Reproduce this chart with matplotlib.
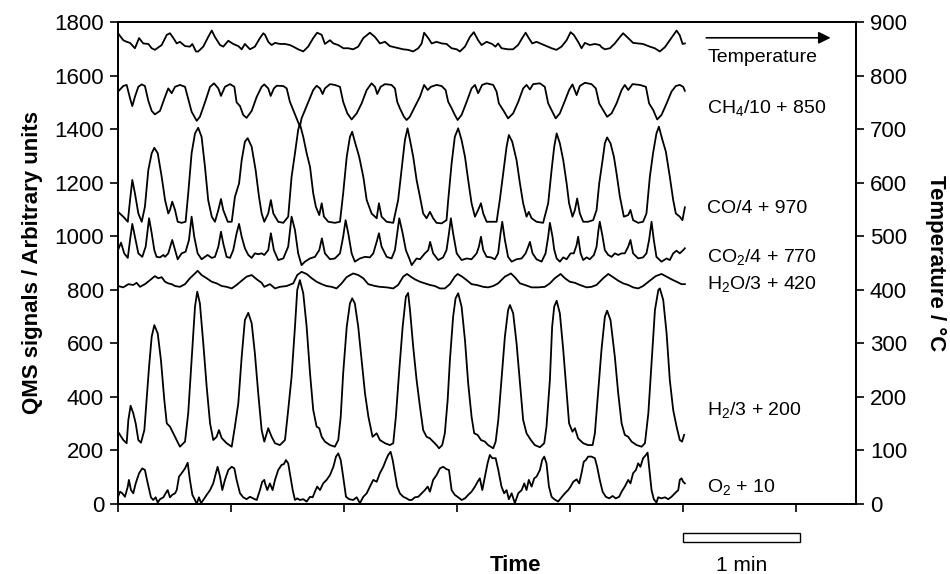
import matplotlib
matplotlib.use("Agg")
import matplotlib.pyplot as plt
from matplotlib.patches import Rectangle
import matplotlib.transforms as mtransforms

plt.rcParams['font.family'] = ['Liberation Sans', 'DejaVu Sans']
plt.rcParams['mathtext.fontset'] = 'custom'
plt.rcParams['mathtext.rm'] = 'Liberation Sans'
plt.rcParams['mathtext.default'] = 'regular'

# time in seconds, signals in arbitrary units (already offset as labelled)
temp_t = [0, 2.8, 4.6, 6.4, 9.0, 11.2, 13.4, 16.1, 17.9, 19.6, 23.2, 25.9, 27.6, 29.4, 31.2, 32.9,
          35.6, 38.2, 39.5, 41.4, 42.6, 45.3, 47.9, 49.8, 51.5, 54.2, 55.9, 58.6, 61.2, 63.9, 65.7,
          67.4, 70.1, 72.7, 75.4, 77.2, 78.1, 79.8, 81.6, 83.4, 86.0, 88.7, 91.3, 93.1, 95.7, 98.4,
          101.0, 103.7, 105.8, 108.2, 109.9, 112.6, 114.4, 117.0, 119.7, 122.3, 124.9, 127.6, 130.3,
          133.8, 136.5, 139.1, 141.8, 144.4, 148.0, 151.5, 154.1, 156.8, 159.5, 161.3, 162.6, 164.8,
          166.6, 169.2, 171.9, 174.5, 177.2, 179.9, 181.6, 184.3, 186.9, 189.0, 191.3, 193.1, 195.8,
          198.7, 200.5, 201.9, 203.7, 207.2, 209.8, 212.5, 214.7, 216.5, 218.2, 220.0, 222.3, 225.0,
          227.6, 230.3, 232.9, 235.6, 238.3, 240.4, 242.1, 244.4, 246.2, 248.0, 250.6, 253.3, 255.9,
          256.8, 258.6, 261.3, 263.9, 266.6, 268.3, 271.0, 273.6, 276.3, 278.8, 282.5, 285.1, 287.8,
          290.5, 293.1, 296.7, 298.4, 299.9, 301.1]
temp_c = [879, 866, 863, 861, 851, 870, 860, 859, 851, 848, 857, 876, 879, 870, 860, 863,
          855, 854, 859, 845, 845, 854, 872, 884, 872, 857, 854, 865, 859, 855, 849,
          859, 849, 854, 870, 879, 876, 863, 857, 861, 859, 859, 857, 854, 849, 845,
          854, 870, 880, 876, 859, 866, 860, 857, 851, 851, 849, 854, 870,
          880, 872, 860, 863, 855, 852, 849, 848, 845, 851, 860, 880, 870,
          860, 863, 860, 859, 851, 849, 845, 854, 872, 881, 866, 857, 863,
          859, 854, 860, 851, 849, 849, 857, 870, 880, 870, 860, 863, 859,
          855, 851, 848, 854, 866, 881, 876, 863, 851, 861, 857, 859, 857,
          853, 849, 851, 860, 872, 879, 870, 861, 860, 859, 854, 851, 845,
          853, 866, 884, 875, 859, 860]

ch4_t = [0, 2.8, 4.6, 6.4, 7.6, 9.0, 10.8, 12.6, 14.3, 16.1, 17.9, 19.6, 22.3, 25.0, 26.7, 28.5,
         30.3, 32.9, 35.6, 37.0, 39.1, 41.8, 43.5, 46.2, 48.9, 51.0, 53.3, 54.7, 56.8, 59.5, 61.8,
         63.0, 64.8, 66.5, 68.3, 71.0, 73.7, 76.3, 77.7, 79.8, 81.1, 82.8, 84.3, 87.8, 89.6, 91.3,
         93.1, 94.9, 96.6, 97.5, 99.3, 101.9, 103.7, 105.5, 107.3, 108.7, 109.9, 112.6, 115.2,
         117.9, 119.6, 121.8, 124.1, 126.8, 129.4, 132.1, 134.7, 136.5, 137.7, 139.5, 141.8, 145.3,
         147.1, 148.3, 149.7, 151.9, 153.3, 155.0, 157.7, 160.4, 162.6, 164.5, 166.2, 169.2, 171.9,
         174.0, 175.4, 177.2, 178.9, 180.4, 182.5, 185.2, 187.8, 189.6, 191.3, 193.4, 195.8, 199.3,
         201.1, 202.3, 204.6, 207.2, 209.9, 212.6, 215.2, 217.0, 218.8, 220.5, 224.1, 226.7, 228.5,
         230.3, 232.5, 234.7, 237.4, 239.6, 241.4, 243.6, 245.3, 248.0, 251.5, 253.8, 255.6, 257.7,
         259.8, 262.2, 264.8, 267.5, 269.2, 271.0, 273.3, 277.2, 280.4, 282.1, 284.3, 286.4, 288.7,
         291.4, 294.0, 296.3, 298.4, 300.2, 301.1]
ch4 = [1540, 1561, 1565, 1515, 1486, 1521, 1558, 1567, 1561, 1506, 1468, 1455, 1468, 1521, 1552, 1534,
       1558, 1565, 1558, 1521, 1465, 1431, 1446, 1500, 1558, 1571, 1552, 1524, 1558, 1568, 1558,
       1500, 1486, 1453, 1442, 1468, 1521, 1558, 1567, 1552, 1524, 1552, 1562, 1561, 1552, 1502,
       1471, 1440, 1410, 1440, 1471, 1515, 1546, 1562, 1552, 1531, 1552, 1568, 1565,
       1558, 1502, 1459, 1436, 1459, 1496, 1546, 1571, 1558, 1531, 1558, 1568, 1565,
       1552, 1502, 1478, 1446, 1434, 1446, 1484, 1521, 1565, 1546, 1558, 1565, 1561,
       1546, 1502, 1478, 1453, 1434, 1453, 1502, 1552, 1565, 1534, 1565, 1571, 1565,
       1540, 1496, 1471, 1440, 1459, 1502, 1552, 1565, 1548, 1568, 1571, 1558, 1496,
       1471, 1440, 1459, 1506, 1546, 1567, 1527, 1561, 1573, 1568, 1552, 1496, 1471,
       1446, 1459, 1496, 1546, 1565, 1546, 1568, 1565, 1558, 1496, 1471, 1436, 1453,
       1496, 1540, 1561, 1565, 1558, 1543]

co_t = [0, 2.8, 5.2, 6.4, 7.6, 9.0, 10.8, 12.6, 14.3, 16.1, 17.9, 19.3, 21.1, 23.2, 25.0, 26.7,
        27.6, 28.8, 30.3, 31.7, 33.8, 35.9, 37.3, 39.1, 40.9, 42.6, 44.4, 46.2, 47.9, 49.8, 51.5,
        53.3, 54.7, 55.9, 58.3, 60.4, 62.1, 64.3, 65.7, 67.4, 68.9, 71.0, 73.1, 74.9, 76.3, 77.7,
        79.8, 81.2, 82.5, 85.1, 87.8, 90.4, 92.2, 94.0, 95.7, 96.6, 98.4, 100.2, 102.0, 103.7,
        105.1, 106.9, 108.2, 109.4, 111.7, 115.2, 117.9, 119.6, 121.5, 123.2, 124.4, 125.8, 128.1,
        130.3, 132.1, 134.7, 137.4, 138.6, 140.0, 142.7, 146.2, 148.8, 150.6, 152.4, 153.8, 155.1,
        156.8, 158.6, 160.4, 162.1, 163.9, 165.7, 167.4, 169.2, 171.9, 174.5, 175.4, 177.2, 178.9,
        180.7, 182.5, 184.3, 186.0, 187.8, 189.6, 191.3, 192.8, 194.0, 195.8, 198.4, 201.1, 202.8,
        204.6, 206.4, 207.6, 209.4, 211.7, 213.5, 215.2, 217.0, 218.2, 219.7, 222.3, 225.8, 228.5,
        230.3, 231.7, 233.0, 234.7, 236.5, 238.3, 239.6, 241.4, 242.7, 243.9, 245.3, 247.1, 249.7,
        252.4, 254.2, 255.6, 257.4, 258.6, 259.8, 261.6, 263.4, 264.8, 266.6, 268.7, 271.0, 272.2,
        273.6, 276.3, 278.9, 280.7, 282.5, 284.2, 286.0, 287.3, 289.2, 291.0, 293.1, 294.9, 296.3,
        298.4, 299.8, 301.1]
co = [1091, 1073, 1054, 1135, 1210, 1160, 1085, 1054, 1110, 1247, 1310, 1330, 1310, 1222, 1135, 1085,
      1098, 1129, 1098, 1054, 1050, 1054, 1160, 1310, 1384, 1405, 1371, 1259, 1135, 1073, 1054,
      1098, 1139, 1098, 1054, 1054, 1147, 1197, 1284, 1353, 1366, 1334, 1247, 1147, 1085, 1054,
      1085, 1135, 1085, 1054, 1050, 1073, 1222, 1310, 1397, 1420, 1371, 1310, 1259, 1160,
      1110, 1079, 1123, 1073, 1054, 1050, 1054, 1160, 1297, 1371, 1390, 1353, 1297,
      1222, 1135, 1085, 1067, 1123, 1073, 1054, 1050, 1135, 1247, 1359, 1403, 1359,
      1297, 1210, 1147, 1085, 1067, 1091, 1067, 1050, 1048, 1060, 1135, 1272, 1371,
      1403, 1359, 1297, 1210, 1123, 1073, 1098, 1123, 1085, 1054, 1054, 1054, 1135,
      1235, 1334, 1378, 1353, 1284, 1197, 1123, 1073, 1091, 1067, 1054, 1050, 1123,
      1247, 1334, 1384, 1347, 1284, 1197, 1123, 1073, 1098, 1141, 1085, 1054, 1054,
      1060, 1098, 1197, 1284, 1347, 1369, 1347, 1297, 1235, 1147, 1073, 1079, 1098,
      1060, 1050, 1054, 1085, 1222, 1310, 1384, 1409, 1359, 1316, 1222, 1135, 1085,
      1073, 1060, 1108]

co2_t = [0, 1.6, 3.3, 5.2, 6.4, 7.6, 9.0, 10.8, 12.9, 14.7, 16.5, 17.9, 19.3, 20.5, 22.3, 24.1,
         25.0, 26.7, 28.8, 30.3, 31.7, 33.8, 35.9, 37.7, 39.1, 40.5, 42.3, 44.4, 46.2, 47.6, 49.8,
         51.5, 53.3, 54.7, 55.9, 57.7, 59.5, 61.2, 63.0, 64.3, 65.7, 67.4, 69.2, 71.0, 72.7, 74.5,
         76.3, 77.7, 79.8, 81.2, 82.8, 85.1, 87.8, 90.4, 92.2, 94.0, 95.7, 97.5, 99.3, 102.0, 104.6,
         106.9, 108.3, 109.9, 112.6, 115.2, 117.9, 119.6, 120.9, 122.3, 124.1, 125.8, 128.5, 131.2,
         133.8, 135.6, 137.4, 138.6, 140.0, 142.7, 145.3, 147.1, 148.3, 149.4, 151.2, 152.9, 154.7,
         156.0, 158.6, 160.4, 163.0, 164.8, 165.8, 167.4, 170.1, 172.7, 174.5, 175.8, 176.8, 178.0,
         179.9, 182.5, 185.2, 187.8, 190.5, 191.7, 192.8, 194.0, 195.8, 198.1, 200.2, 201.9, 203.2,
         204.1, 205.5, 207.2, 209.1, 211.7, 214.4, 216.5, 217.9, 218.8, 220.2, 222.3, 225.0, 227.1,
         228.5, 229.4, 230.8, 231.7, 233.0, 234.7, 236.5, 238.3, 240.4, 242.1, 243.6, 244.4, 245.7,
         247.1, 248.9, 250.6, 252.8, 254.2, 255.2, 255.9, 257.4, 258.6, 260.4, 262.2, 263.9, 265.7,
         267.5, 269.2, 271.0, 272.2, 273.6, 276.3, 278.9, 280.7, 282.1, 283.4, 284.6, 286.0, 288.7,
         291.4, 293.1, 294.9, 296.7, 298.4, 300.2, 301.1]
co2 = [948, 976, 936, 919, 986, 1046, 998, 936, 923, 961, 1067, 1011, 948, 923, 921, 930,
       923, 936, 986, 948, 914, 936, 942, 986, 1073, 998, 936, 914, 923, 930, 919,
       923, 961, 1017, 973, 923, 919, 948, 1011, 1046, 998, 955, 930, 919, 936, 933,
       936, 930, 948, 1011, 948, 911, 917, 961, 1073, 1023, 936, 892, 905, 917, 923,
       948, 992, 936, 914, 917, 936, 998, 1060, 1011, 936, 905, 917, 923,
       921, 936, 979, 1011, 961, 923, 917, 948, 1011, 1067, 1011, 948, 917,
       892, 917, 914, 936, 948, 979, 936, 911, 921, 948, 1011, 1067, 1011,
       936, 911, 917, 914, 936, 961, 998, 948, 923, 921, 914, 936, 1011,
       1054, 986, 923, 905, 914, 917, 936, 961, 979, 936, 914, 905, 936,
       998, 1050, 998, 950, 917, 905, 921, 914, 936, 936, 967, 998, 936,
       911, 921, 914, 930, 961, 1023, 1054, 998, 948, 930, 923, 936, 930,
       936, 936, 961, 986, 936, 917, 921, 936, 986, 1054, 986, 923, 905,
       917, 911, 936, 946, 936, 948, 955]

h2o_t = [0, 2.8, 5.5, 8.1, 9.9, 11.7, 14.3, 17.0, 19.6, 21.4, 23.2, 25.0, 26.7, 28.5, 30.3, 32.9,
         35.6, 38.2, 40.9, 42.3, 44.4, 47.1, 49.8, 52.4, 55.1, 57.7, 60.4, 63.0, 65.7, 68.3, 71.0,
         73.7, 76.3, 77.7, 80.7, 83.4, 86.0, 89.6, 93.1, 95.2, 97.5, 100.2, 102.9, 105.5, 108.2,
         110.8, 113.5, 116.1, 118.8, 121.4, 124.9, 127.6, 130.3, 132.9, 136.5, 139.1, 142.7, 146.2,
         148.8, 151.5, 153.5, 155.5, 157.7, 160.4, 163.0, 165.7, 168.3, 171.0, 173.6, 176.3, 178.9,
         180.4, 182.8, 185.2, 187.8, 190.5, 194.0, 196.6, 199.3, 201.9, 205.5, 208.7, 210.8, 213.5,
         216.1, 219.7, 223.2, 226.7, 229.4, 232.0, 235.1, 237.4, 240.0, 242.7, 245.3, 248.9, 251.5,
         254.2, 257.7, 260.4, 263.0, 265.7, 268.3, 271.0, 273.6, 276.3, 278.9, 282.5, 285.6, 288.7,
         291.4, 294.0, 296.7, 299.3, 301.1]
h2o = [814, 809, 821, 818, 826, 811, 821, 836, 851, 843, 847, 830, 824, 821, 814, 811,
       821, 843, 861, 871, 855, 843, 830, 824, 814, 811, 805, 818, 834, 849, 855,
       839, 826, 811, 821, 805, 811, 814, 824, 855, 867, 859, 843, 830, 821,
       814, 811, 805, 824, 847, 861, 855, 843, 821, 814, 811, 809, 805,
       818, 849, 859, 849, 839, 830, 824, 818, 814, 805, 805, 821, 849,
       859, 849, 836, 821, 818, 811, 809, 814, 824, 849, 861, 847, 824,
       818, 809, 809, 811, 824, 843, 859, 843, 830, 826, 818, 809, 811,
       818, 843, 859, 847, 834, 824, 818, 809, 805, 814, 834, 851, 859,
       849, 839, 830, 821, 821]

h2_t = [0, 2.8, 4.6, 5.5, 6.7, 8.1, 9.4, 10.8, 12.2, 14.0, 15.2, 16.5, 17.9, 19.3, 21.1, 22.8,
        24.6, 25.9, 27.6, 30.3, 32.9, 35.6, 37.3, 39.1, 40.9, 42.1, 43.5, 45.3, 47.1, 48.9, 50.6,
        52.4, 53.6, 55.1, 57.7, 60.4, 62.1, 63.9, 65.7, 67.4, 69.2, 71.0, 72.7, 74.5, 76.3, 77.7,
        79.8, 81.6, 83.4, 86.0, 88.7, 90.4, 92.2, 94.0, 95.2, 96.6, 98.4, 100.2, 102.0, 103.7,
        105.5, 106.9, 108.2, 109.9, 112.6, 115.2, 117.0, 118.3, 119.6, 121.5, 123.2, 124.4, 125.8,
        127.6, 129.4, 131.2, 133.0, 135.2, 137.4, 139.1, 141.8, 144.4, 146.2, 147.6, 149.4, 151.2,
        152.9, 154.1, 155.1, 156.8, 158.6, 160.4, 162.1, 163.9, 165.7, 167.4, 169.2, 170.5, 172.2,
        173.6, 175.1, 176.3, 178.0, 179.3, 180.7, 182.5, 184.3, 186.0, 187.8, 189.2, 191.0, 192.8,
        194.9, 196.6, 199.3, 200.6, 202.0, 203.7, 205.5, 207.2, 208.2, 209.9, 211.7, 213.5, 215.2,
        217.0, 219.3, 221.4, 224.1, 226.4, 227.6, 229.4, 230.6, 231.7, 233.0, 234.7, 236.5, 238.3,
        239.6, 241.4, 242.7, 244.4, 247.1, 249.7, 252.1, 253.3, 255.0, 256.8, 258.6, 259.8, 261.6,
        263.9, 265.7, 267.5, 269.2, 271.0, 272.8, 275.5, 278.1, 279.9, 281.7, 283.5, 285.2, 287.0,
        287.8, 289.6, 291.4, 293.1, 294.9, 296.7, 298.4, 299.6, 300.7]
h2 = [270, 239, 227, 314, 367, 339, 301, 239, 229, 276, 388, 513, 625, 668, 637, 538,
      388, 301, 289, 251, 214, 233, 339, 538, 737, 793, 749, 600, 438, 301, 239,
      251, 276, 246, 227, 214, 289, 376, 550, 687, 714, 675, 563, 412, 276, 233,
      283, 251, 227, 220, 239, 351, 475, 662, 799, 836, 787, 662, 488, 351,
      289, 283, 251, 233, 220, 214, 239, 326, 488, 662, 749, 768, 749,
      662, 538, 413, 326, 251, 264, 239, 227, 220, 227, 326, 500, 662,
      774, 788, 724, 587, 463, 363, 276, 251, 245, 233, 220, 208, 220,
      264, 388, 538, 699, 768, 787, 737, 612, 451, 326, 264, 258, 239,
      233, 220, 208, 233, 314, 463, 625, 724, 743, 712, 600, 451, 314,
      264, 239, 220, 212, 227, 289, 463, 662, 737, 759, 712, 575, 413,
      301, 270, 283, 245, 227, 220, 220, 264, 413, 575, 699, 722, 687,
      550, 413, 301, 258, 251, 233, 220, 214, 227, 339, 538, 724, 799,
      805, 762, 637, 463, 351, 289, 239, 233, 258]

o2_t = [0, 1.1, 2.3, 3.7, 5.2, 5.8, 6.9, 8.1, 9.4, 11.2, 12.9, 14.3, 15.8, 17.5, 18.7, 20.0,
        21.1, 22.3, 24.1, 25.3, 26.4, 27.6, 28.8, 30.3, 31.2, 32.4, 33.8, 35.6, 37.0, 38.2, 39.5,
        40.9, 41.8, 43.0, 44.1, 45.3, 47.1, 48.9, 50.6, 51.5, 52.9, 54.2, 55.4, 56.8, 58.6, 60.4,
        61.8, 63.0, 64.8, 66.5, 68.3, 70.1, 71.8, 73.7, 75.4, 76.6, 77.7, 78.1, 79.3, 80.7, 82.1,
        83.4, 85.1, 86.9, 88.1, 89.2, 90.4, 91.3, 92.8, 94.0, 95.2, 96.6, 98.4, 100.2, 102.0,
        103.4, 104.6, 105.8, 107.3, 109.0, 110.8, 112.6, 114.4, 115.8, 117.0, 118.3, 119.6, 121.1,
        122.8, 124.9, 126.8, 128.5, 130.3, 132.1, 133.8, 135.6, 137.4, 139.1, 140.9, 142.3, 143.5,
        144.8, 145.9, 147.1, 148.3, 149.7, 151.5, 153.3, 154.7, 156.0, 157.7, 159.5, 161.3, 163.0,
        164.5, 165.7, 167.4, 169.2, 171.0, 172.7, 174.5, 175.8, 177.2, 178.9, 180.7, 182.5, 184.3,
        186.0, 187.8, 189.6, 191.0, 192.2, 193.5, 194.9, 196.3, 197.5, 198.8, 200.6, 202.0, 203.7,
        205.1, 206.4, 207.6, 209.1, 210.8, 212.6, 214.4, 215.8, 217.0, 218.2, 219.7, 221.1, 222.3,
        224.1, 225.3, 226.4, 227.6, 228.9, 230.3, 231.7, 233.8, 235.6, 237.4, 239.1, 240.4, 241.8,
        243.6, 245.0, 246.2, 247.4, 248.5, 249.7, 251.5, 253.3, 254.5, 255.9, 257.4, 259.1, 260.9,
        262.7, 264.4, 266.2, 267.5, 269.2, 271.0, 272.2, 273.6, 275.1, 276.3, 277.5, 278.9, 280.4,
        281.3, 282.1, 283.4, 284.6, 286.0, 286.9, 288.7, 290.5, 292.3, 294.0, 295.8, 297.6, 298.4,
        299.3, 300.2, 301.1]
o2 = [27, 46, 40, 27, 65, 90, 52, 40, 77, 115, 133, 127, 77, 25, 15, 25,
      5, 18, 25, 40, 52, 25, 34, 40, 52, 102, 115, 133, 154, 90, 34,
      15, 0, 25, 3, 15, 34, 52, 77, 102, 139, 102, 52, 90, 127, 139,
      133, 90, 40, 25, 18, 27, 21, 15, 52, 83, 90, 77, 52, 77, 52,
      90, 127, 146, 149, 164, 152, 115, 52, 15, 21, 15, 18, 9, 27,
      25, 46, 65, 52, 77, 90, 108, 139, 177, 189, 164, 102, 27,
      18, 15, 25, 3, 27, 40, 65, 90, 83, 115, 139, 164, 183,
      195, 164, 115, 65, 40, 27, 21, 15, 15, 25, 27, 40, 52,
      65, 46, 90, 108, 133, 139, 130, 127, 52, 34, 25, 15, 21,
      34, 46, 65, 83, 96, 52, 102, 152, 183, 171, 171, 127, 65,
      40, 52, 18, 40, 3, 40, 52, 77, 52, 90, 65, 96, 102,
      127, 164, 177, 152, 65, 27, 18, 9, 25, 40, 52, 65, 83,
      92, 77, 115, 158, 164, 177, 177, 171, 139, 90, 46, 27, 21,
      30, 21, 27, 46, 65, 90, 77, 115, 127, 152, 139, 171, 183,
      192, 139, 52, 18, 5, 25, 21, 25, 18, 27, 40, 52, 90,
      96, 83, 77]

trace_labels = ['Temperature', r'CH$_4$/10 + 850', 'CO/4 + 970', r'CO$_2$/4 + 770',
                r'H$_2$O/3 + 420', r'H$_2$/3 + 200', r'O$_2$ + 10']
label_y = [1667, 1480, 1105, 922, 821, 351, 63]

fig = plt.figure(figsize=(9.5, 5.74), dpi=100)
ax = fig.add_axes([118 / 950, 70 / 574, 738 / 950, 482 / 574])
ax2 = ax.twinx()

lw = 1.3
ax.plot(ch4_t, ch4, color='black', lw=lw)
ax.plot(co_t, co, color='black', lw=lw)
ax.plot(co2_t, co2, color='black', lw=lw)
ax.plot(h2o_t, h2o, color='black', lw=lw)
ax.plot(h2_t, h2, color='black', lw=lw)
ax.plot(o2_t, o2, color='black', lw=lw)
ax2.plot(temp_t, temp_c, color='black', lw=lw)

ax.set_xlim(0, 392)
ax.set_ylim(0, 1800)
ax2.set_ylim(0, 900)
ax.set_xticks(range(0, 361, 60))
ax.set_xticklabels([])
ax.set_yticks(range(0, 1801, 200))
ax2.set_yticks(range(0, 901, 100))

for a in (ax, ax2):
    a.tick_params(direction='out', length=6, width=1.2, labelsize=16, pad=4)
    for s in a.spines.values():
        s.set_linewidth(1.3)

ax.set_ylabel('QMS signals / Arbitrary units', fontsize=16, fontweight='bold', labelpad=8)
ax2.set_ylabel('Temperature / \u00b0C', fontsize=16, fontweight='bold', rotation=270, labelpad=28)

trans = mtransforms.blended_transform_factory(ax.transData, ax.transAxes)
ax.text(211, -0.127, 'Time', transform=trans, fontsize=16, fontweight='bold',
        ha='center', va='center')

# trace labels to the right of the data
for lab, yv in zip(trace_labels, label_y):
    ax.text(313, yv, lab, fontsize=14, va='center', ha='left')

# arrow over the "Temperature" label
ax.annotate('', xy=(380, 1741), xytext=(311, 1741),
            arrowprops=dict(arrowstyle='-|>', color='black', lw=1.2, mutation_scale=18))

# 1 min scale bar under the axis
ax.add_patch(Rectangle((300, -0.078), 62, 0.017, transform=trans, clip_on=False,
                       facecolor='white', edgecolor='black', lw=1.0))
ax.text(331, -0.127, '1 min', transform=trans, fontsize=15, ha='center', va='center')

fig.savefig('out.png', dpi=100)
